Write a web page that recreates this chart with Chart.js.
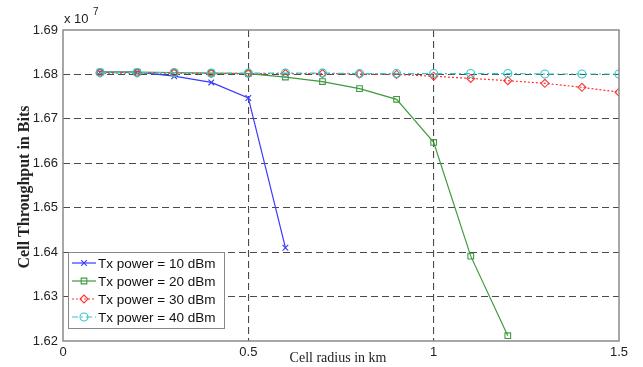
<!DOCTYPE html>
<html>
<head>
<meta charset="utf-8">
<script src="https://cdn.jsdelivr.net/npm/chart.js@4/dist/chart.umd.min.js"></script>
<style>
  html, body { margin: 0; padding: 0; background: #fff; }
  #wrap { width: 643px; height: 367px; }
</style>
</head>
<body>
<div id="wrap"><canvas id="myChart" width="643" height="367"></canvas></div>
<script>
// cell radius (km) and throughput in units of 1e7 bits
const radius = [0.1, 0.2, 0.3, 0.4, 0.5, 0.6, 0.7, 0.8, 0.9, 1.0, 1.1, 1.2, 1.3, 1.4, 1.5];
const tx10 = [1.6805, 1.6805, 1.6796, 1.6782, 1.6747, 1.6410];
const tx20 = [1.6805, 1.6805, 1.6804, 1.6803, 1.6802, 1.6794, 1.6784, 1.6768, 1.6744, 1.6647, 1.6391, 1.6212];
const tx30 = [1.6803, 1.6803, 1.6803, 1.6802, 1.6802, 1.6802, 1.6802, 1.6801, 1.6800, 1.6796, 1.6791, 1.6786, 1.6780, 1.6771, 1.6760];
const tx40 = [1.6804, 1.6804, 1.6804, 1.6803, 1.6803, 1.6803, 1.6803, 1.6802, 1.6802, 1.6802, 1.6802, 1.6802, 1.6801, 1.6801, 1.6801];
const seriesNames = ['Tx power = 10 dBm', 'Tx power = 20 dBm', 'Tx power = 30 dBm', 'Tx power = 40 dBm'];
const xTicks = [0, 0.5, 1, 1.5];
const yTicks = [1.62, 1.63, 1.64, 1.65, 1.66, 1.67, 1.68, 1.69];

const colors = ['#3a3aff', '#3f9a3f', '#ff3535', '#35c6c6'];
const dashes = [[], [], [2, 2], [6, 3, 2, 3]];
const markers = ['crossRot', 'rect', 'rectRot', 'circle'];

function pts(vals) {
   return vals.map((v, i) => ({ x: radius[i], y: v }));
}

const allData = [tx10, tx20, tx30, tx40];
const datasets = allData.map((vals, i) => ({
   label: seriesNames[i],
   data: pts(vals),
   borderColor: colors[i],
   backgroundColor: colors[i],
   borderWidth: 1.2,
   borderDash: dashes[i],
   pointStyle: markers[i],
   pointRadius: 4,
   pointBorderWidth: 1.1,
   pointBorderColor: colors[i],
   pointBackgroundColor: 'rgba(0,0,0,0)',
   tension: 0,
   order: 3 - i
}));

function drawMarker(ctx, style, x, y, r) {
   ctx.beginPath();
   if (style === 'circle') {
      ctx.arc(x, y, r, 0, Math.PI * 2);
   } else if (style === 'rect') {
      const s = r * Math.SQRT1_2;
      ctx.rect(x - s, y - s, 2 * s, 2 * s);
   } else if (style === 'rectRot') {
      ctx.moveTo(x, y - r); ctx.lineTo(x + r, y); ctx.lineTo(x, y + r); ctx.lineTo(x - r, y); ctx.closePath();
   } else if (style === 'crossRot') {
      const s = r * Math.SQRT1_2;
      ctx.moveTo(x - s, y - s); ctx.lineTo(x + s, y + s);
      ctx.moveTo(x + s, y - s); ctx.lineTo(x - s, y + s);
   }
   ctx.stroke();
}

const decor = {
   id: 'decor',
   afterDraw(chart) {
      const ctx = chart.ctx;
      const a = chart.chartArea;
      ctx.save();
      // plot box
      ctx.strokeStyle = '#8a8a8a';
      ctx.lineWidth = 1.5;
      ctx.setLineDash([]);
      ctx.strokeRect(a.left, a.top, a.right - a.left, a.bottom - a.top);

      // multiplier
      ctx.fillStyle = '#222';
      ctx.font = '13px "Liberation Sans"';
      ctx.textAlign = 'left';
      ctx.textBaseline = 'alphabetic';
      ctx.fillText('x 10', a.left + 1, 23);
      ctx.font = '10px "Liberation Sans"';
      ctx.fillText('7', a.left + 30, 15);

      // axis titles
      ctx.font = '14px "Liberation Serif"';
      ctx.textAlign = 'center';
      ctx.textBaseline = 'middle';
      ctx.fillText('Cell radius in km', 338, 358);
      ctx.save();
      ctx.translate(25, 187);
      ctx.rotate(-Math.PI / 2);
      ctx.font = 'bold 16px "Liberation Serif"';
      ctx.fillText('Cell Throughput in Bits', 0, 0);
      ctx.restore();

      // legend
      const lx = 68, ly = 252, lw = 156, lh = 76;
      ctx.fillStyle = '#fff';
      ctx.fillRect(lx, ly, lw, lh);
      ctx.strokeStyle = '#888';
      ctx.lineWidth = 1;
      ctx.strokeRect(lx + 0.5, ly + 0.5, lw, lh);
      ctx.font = '13.5px "Liberation Sans"';
      ctx.textAlign = 'left';
      ctx.textBaseline = 'middle';
      for (let i = 0; i < seriesNames.length; i++) {
         const y = 263 + i * 18;
         ctx.strokeStyle = colors[i];
         ctx.lineWidth = 1.2;
         ctx.setLineDash(dashes[i]);
         ctx.beginPath();
         ctx.moveTo(72, y); ctx.lineTo(96, y);
         ctx.stroke();
         ctx.setLineDash([]);
         ctx.lineWidth = 1.1;
         drawMarker(ctx, markers[i], 84, y, 4);
         ctx.fillStyle = '#111';
         ctx.fillText(seriesNames[i], 98, y + 1);
      }
      ctx.restore();
   }
};

new Chart(document.getElementById('myChart'), {
   type: 'line',
   data: { datasets: datasets },
   options: {
      responsive: false,
      animation: false,
      layout: { padding: { left: 0, top: 30, right: 24, bottom: 0 } },
      plugins: {
         legend: { display: false },
         tooltip: { enabled: false }
      },
      scales: {
         x: {
            type: 'linear',
            min: 0,
            max: 1.5,
            afterFit: function (scale) { scale.height = 26; },
            afterBuildTicks: function (scale) { scale.ticks = xTicks.map(v => ({ value: v })); },
            ticks: {
               padding: 4,
               maxRotation: 0,
               color: '#222',
               font: { family: 'Liberation Sans', size: 13 },
               callback: v => String(v)
            },
            grid: {
               drawTicks: false,
               color: c => (c.tick && (c.tick.value === 0.5 || c.tick.value === 1)) ? '#4a4a4a' : 'rgba(0,0,0,0)',
               lineWidth: 1.1
            },
            border: { display: false, dash: [7, 4] }
         },
         y: {
            min: 1.62,
            max: 1.69,
            afterFit: function (scale) { scale.width = 63; },
            afterBuildTicks: function (scale) { scale.ticks = yTicks.map(v => ({ value: v })); },
            ticks: {
               padding: 5,
               color: '#222',
               font: { family: 'Liberation Sans', size: 13 },
               callback: v => Number(v).toFixed(2)
            },
            grid: {
               drawTicks: false,
               color: c => (c.tick && c.tick.value > 1.625 && c.tick.value < 1.685) ? '#4a4a4a' : 'rgba(0,0,0,0)',
               lineWidth: 1.1
            },
            border: { display: false, dash: [7, 4] }
         }
      }
   },
   plugins: [decor]
});
</script>
</body>
</html>
